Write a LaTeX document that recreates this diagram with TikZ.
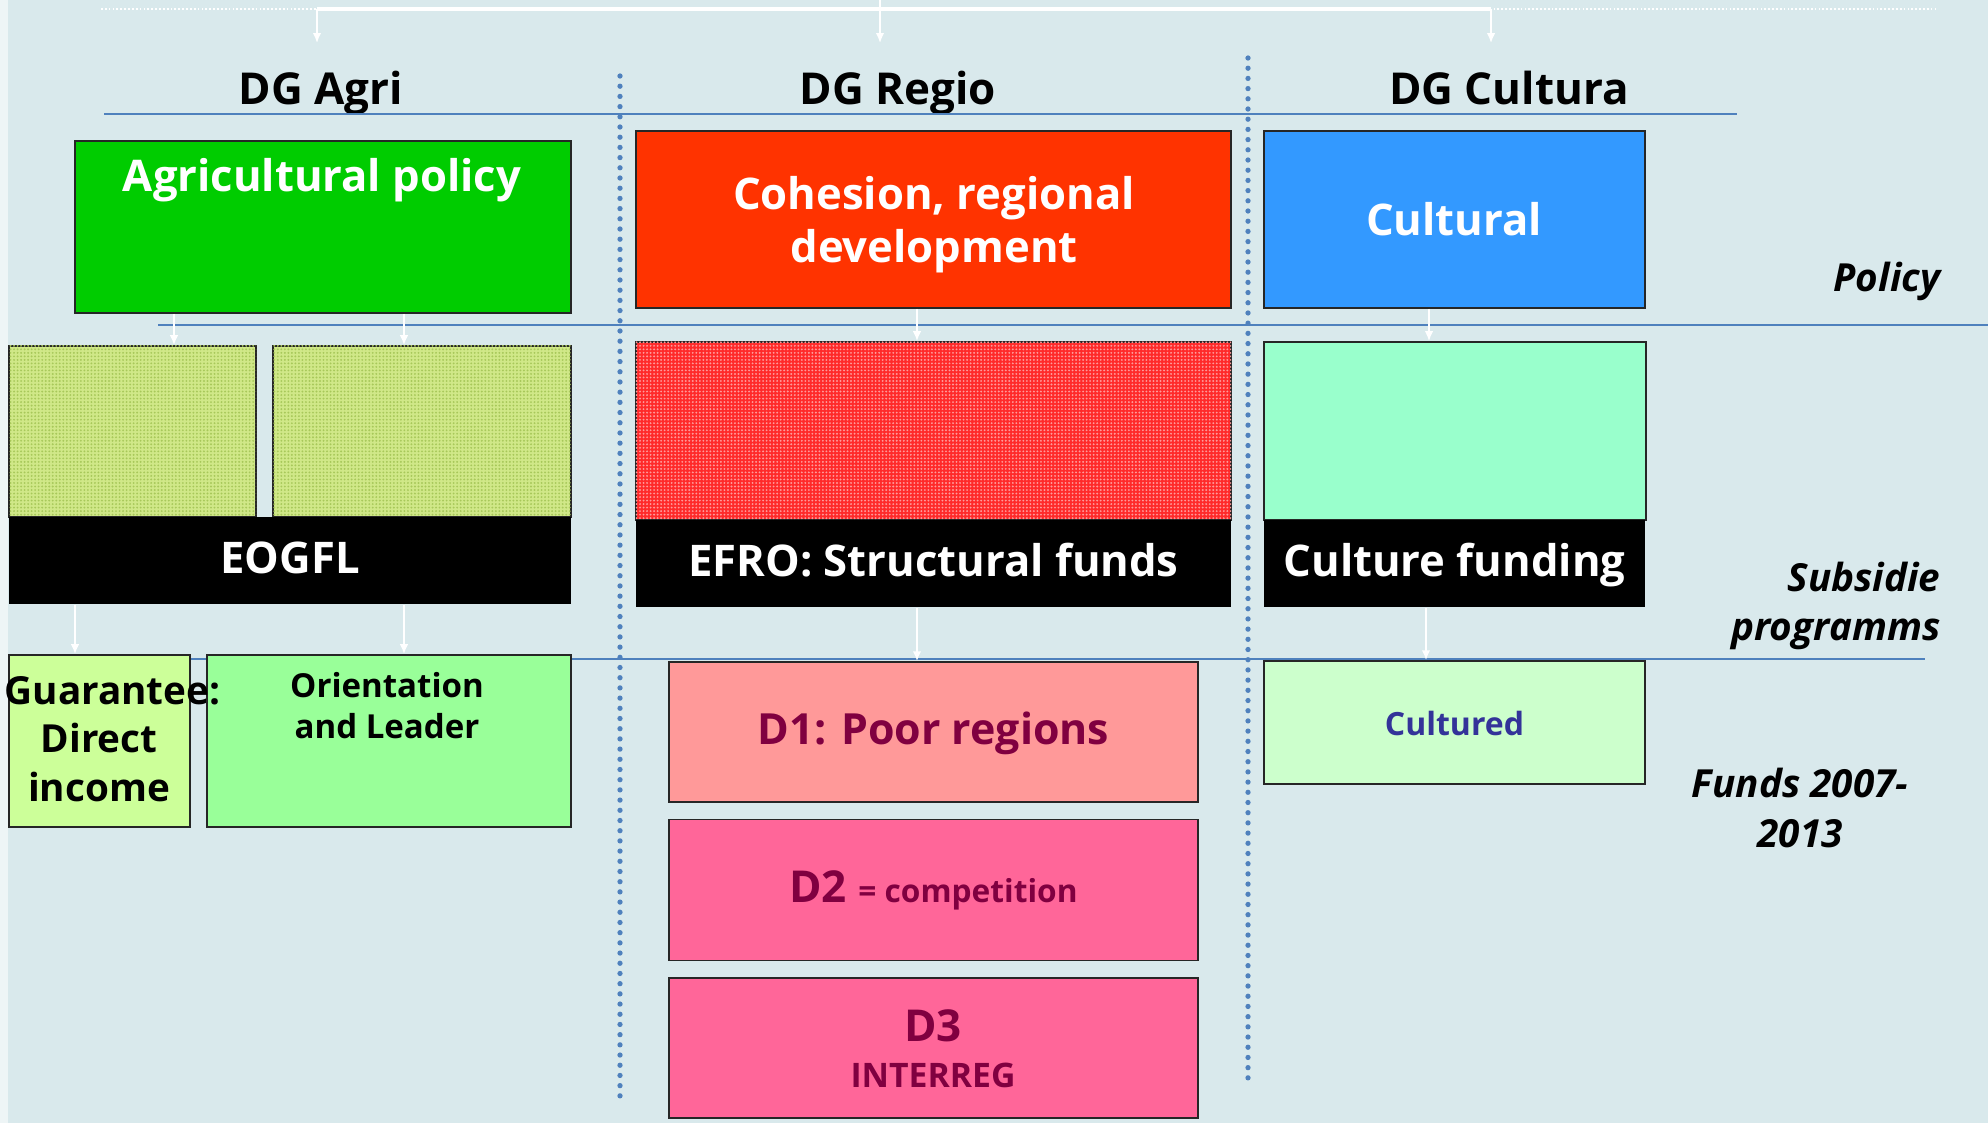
\documentclass[tikz,border=0pt]{standalone}
\usepackage{fontspec}
\setmainfont{Open Sans}
\usetikzlibrary{arrows.meta,patterns.meta}
\definecolor{bgblue}{HTML}{D9E9EC}
\definecolor{lineblue}{HTML}{4F81BD}
\definecolor{agrigreen}{HTML}{00CC00}
\definecolor{regiored}{HTML}{FF3300}
\definecolor{cultblue}{HTML}{3399FF}
\definecolor{limebase}{HTML}{D0E888}
\definecolor{limedot}{HTML}{A8C85A}
\definecolor{redbase}{HTML}{FF2A2A}
\definecolor{reddot}{HTML}{FF9A9A}
\definecolor{mint}{HTML}{99FFCC}
\definecolor{paleyellow}{HTML}{CCFF99}
\definecolor{lightgreen}{HTML}{99FF99}
\definecolor{salmon}{HTML}{FF9999}
\definecolor{dpink}{HTML}{FF6699}
\definecolor{palegreen}{HTML}{CCFFCC}
\definecolor{dtext}{HTML}{800040}
\definecolor{navytext}{HTML}{333399}
\begin{document}
\begin{tikzpicture}[x=0.01cm,y=-0.01cm,
    box/.style={draw=black!85,line width=0.5pt,inner sep=0pt},
    blk/.style={fill=black,inner sep=0pt,text=white,text height=0.72em,text depth=0pt,
      font=\fontsize{12.4}{15}\selectfont\bfseries},
    limepat/.style={fill=limebase,postaction={pattern={Dots[distance=1pt,radius=0.3pt]},pattern color=limedot}},
    redpat/.style={fill=redbase,postaction={pattern={Dots[distance=1pt,radius=0.3pt]},pattern color=reddot}},
    lbl/.style={inner sep=0pt,text height=0.72em,text depth=0pt},
    ttl/.style={lbl,text=white,font=\fontsize{12.4}{15}\selectfont\bfseries},
    hd/.style={lbl,font=\fontsize{12.5}{14}\selectfont\bfseries},
    rowlbl/.style={inner sep=0pt,font=\fontsize{11}{13.7}\selectfont\bfseries\itshape},
    hline/.style={draw=lineblue,line width=0.8pt},
    vsep/.style={draw=lineblue,line width=1.5pt,line cap=round,dash pattern=on 0pt off 2.9pt},
    wArrow/.style={draw=white,line width=0.45pt,-{Latex[length=2.8pt,width=2.4pt]}}]
  \fill[bgblue] (0,0) rectangle (1988,1123);
  \fill[white!55!bgblue] (0,0) rectangle (8,1123);
  \useasboundingbox (0,0) rectangle (1988,1123);

  \draw[white,line width=0.6pt,dash pattern=on 0.5pt off 0.6pt] (101,9) -- (1937,9);
  \coordinate (tL) at (317,9);
  \coordinate (tM) at (880,0);
  \coordinate (tR) at (1491,9);
  \coordinate (aL) at (317,43);
  \coordinate (aM) at (880,43);
  \coordinate (aR) at (1491,43);
  \draw[white,line width=1.2pt] (tL) -- (tR);
  \foreach \s/\e in {tL/aL,tM/aM,tR/aR}
    \draw[wArrow] (\s) -- (\e);

  \node[hd] (hAgri) at (321,92) {DG Agri};
  \node[hd] (hRegio) at (898,92) {DG Regio};
  \node[hd] (hCult) at (1509,92) {DG Cultura};

  \draw[hline] (104,114) -- (1737,114);
  \draw[hline] (158,325) -- (1988,325);
  \draw[hline] (190,659) -- (1925,659);
  \draw[vsep] (620,76) -- (620,1097);
  \draw[vsep] (1248,58) -- (1248,1080);

  \node[box,fill=agrigreen,minimum width=4.96cm,minimum height=1.72cm] (agri) at (323,227) {};
  \node[ttl] (agriT) at (322,179) {Agricultural policy};
  \node[box,fill=regiored,minimum width=5.95cm,minimum height=1.77cm] (cohesion) at (933.5,219.5) {};
  \node[inner sep=0pt,align=center,text=white,font=\fontsize{12.4}{15}\selectfont\bfseries] (cohesionT) at (934,225) {Cohesion, regional\\development};
  \node[box,fill=cultblue,minimum width=3.81cm,minimum height=1.77cm] (cultural) at (1454.5,219.5) {};
  \node[ttl] (culturalT) at (1454,223) {Cultural};

  \node[box,limepat,minimum width=2.47cm,minimum height=1.71cm] (agriA) at (132.5,431.5) {};
  \node[box,limepat,minimum width=2.98cm,minimum height=1.71cm] (agriB) at (422,431.5) {};
  \node[blk,minimum width=5.62cm,minimum height=0.87cm] (eogfl) at (290,560.5) {EOGFL};
  \node[box,redpat,minimum width=5.95cm,minimum height=1.78cm] (efroP) at (933.5,431) {};
  \node[blk,minimum width=5.95cm,minimum height=0.87cm] (efro) at (933.5,563.5) {EFRO: Structural funds};
  \node[box,fill=mint,minimum width=3.82cm,minimum height=1.78cm] (cultP) at (1455,431) {};
  \node[blk,minimum width=3.81cm,minimum height=0.87cm] (cfund) at (1454.5,563.5) {Culture funding};

  \node[box,fill=paleyellow,minimum width=1.81cm,minimum height=1.72cm] (guar) at (99.5,741) {};
  \node[box,fill=lightgreen,minimum width=3.64cm,minimum height=1.72cm] (orient) at (389,741) {};
  \node[inner sep=0pt,align=center,font=\fontsize{11}{13.7}\selectfont\bfseries] (guarT) at (99,739) {\hspace*{0.7em}Guarantee:\\Direct\\income};
  \node[inner sep=0pt,align=center,font=\fontsize{9.4}{11.7}\selectfont\bfseries] (orientT) at (387,706) {Orientation\\and Leader};

  \node[box,fill=salmon,text=dtext,minimum width=5.29cm,minimum height=1.40cm,text height=0.72em,text depth=0pt,
    font=\fontsize{12.2}{14}\selectfont\bfseries] (d1) at (933.5,732) {D1: Poor regions};
  \node[box,fill=dpink,text=dtext,minimum width=5.29cm,minimum height=1.41cm,text height=0.72em,text depth=0pt,
    font=\fontsize{12.5}{15}\selectfont\bfseries] (d2) at (933.5,890) {D2 {\fontsize{9}{11}\selectfont = competition}};
  \node[box,fill=dpink,minimum width=5.29cm,minimum height=1.40cm] (d3) at (933.5,1048) {};
  \node[lbl,text=dtext,font=\fontsize{12.5}{15}\selectfont\bfseries] (d3T) at (933,1029) {D3};
  \node[lbl,text=dtext,font=\fontsize{9.6}{11}\selectfont\bfseries] (d3S) at (933,1075) {INTERREG};
  \node[box,fill=palegreen,text=navytext,minimum width=3.81cm,minimum height=1.23cm,text height=0.72em,text depth=0pt,
    font=\fontsize{9.1}{11}\selectfont\bfseries] (cultured) at (1454.5,722.5) {Cultured};

  \node[rowlbl,anchor=east,text height=0.72em,text depth=0pt] (polL) at (1941,279) {Policy};
  \node[rowlbl,align=right,anchor=east] (subL) at (1941,606) {Subsidie\\programms};
  \node[rowlbl,align=center,font=\fontsize{11}{14}\selectfont\bfseries\itshape] (fundL) at (1800,808) {Funds 2007-\\2013};

  \coordinate (c1) at (174,0);
  \coordinate (c2) at (404,0);
  \coordinate (c3) at (917,0);
  \coordinate (c4) at (1429,0);
  \coordinate (c5) at (75,0);
  \coordinate (c6) at (1426,0);
  \foreach \a/\b/\c in {agri/agriA/c1,agri/agriB/c2,cohesion/efroP/c3,cultural/cultP/c4,
      eogfl/guar/c5,eogfl/orient/c2,efro/d1/c3,cfund/cultured/c6}
    \draw[wArrow] (\a.south -| \c) -- (\b.north -| \c);
\end{tikzpicture}
\end{document}
